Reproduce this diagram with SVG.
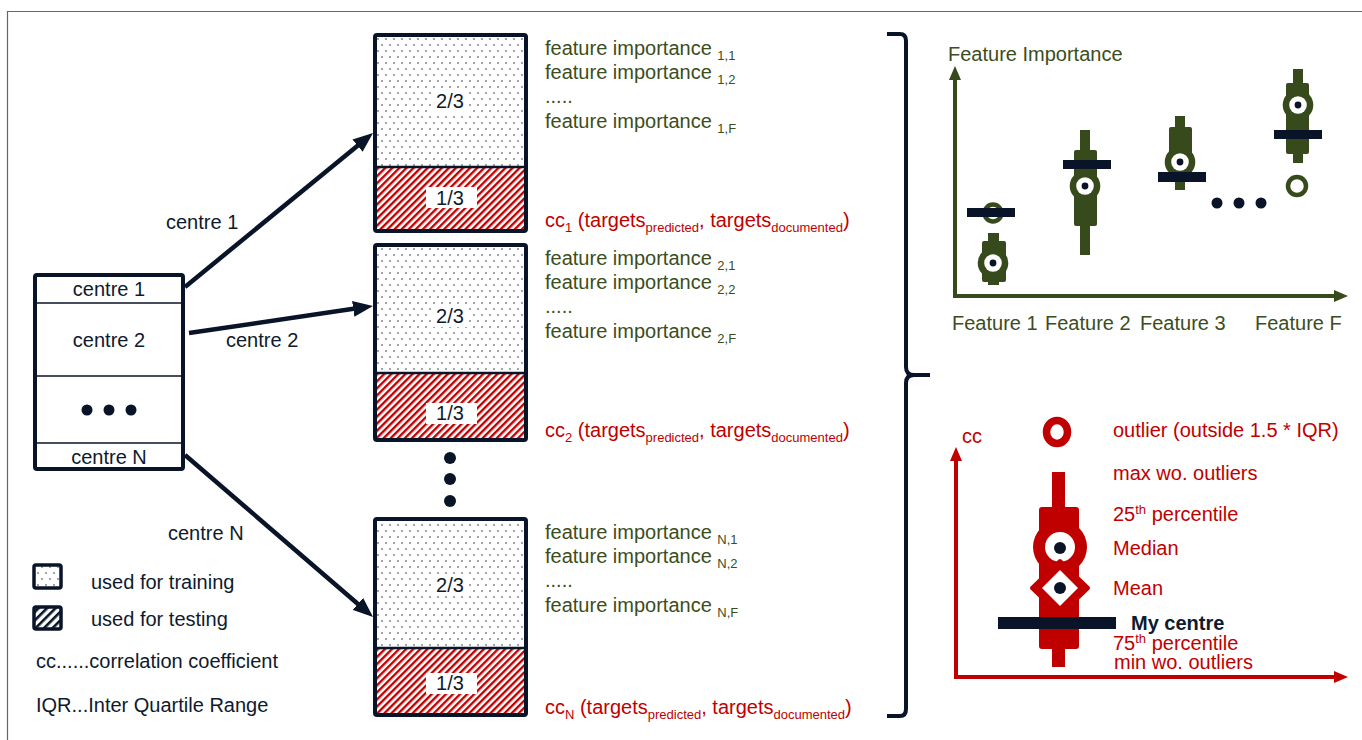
<svg xmlns="http://www.w3.org/2000/svg" width="1362" height="740" viewBox="0 0 1362 740">
<style>
text{font-family:"Liberation Sans",Arial,sans-serif;font-size:20px}
.nv{fill:#0E1A2E}
.gr{fill:#3C4D20}
.rd{fill:#C00000}
.mid{text-anchor:middle}
.sub{font-size:13px}
.blk{stroke:#0A1428;stroke-width:4;fill:none}
.div{stroke:#0A1428;stroke-width:2.5}
.conn{stroke:#0A1428;stroke-width:4.5;fill:none;marker-end:url(#ah)}
.gfill{fill:#374A1C}
.rfill{fill:#C00000}
.navy{fill:#0A1428}
.white{fill:#fff}
</style>
<defs>
<pattern id="dots" width="8" height="12" patternUnits="userSpaceOnUse">
<rect width="8" height="12" fill="#fff"/>
<circle cx="2" cy="3" r="0.8" fill="#2a2f3a"/>
<circle cx="6" cy="9" r="0.8" fill="#2a2f3a"/>
</pattern>
<pattern id="hatch" width="5" height="5" patternUnits="userSpaceOnUse" patternTransform="rotate(45)">
<rect width="5" height="5" fill="#fff"/>
<rect width="2.4" height="5" fill="#C00000"/>
</pattern>
<pattern id="hatchk" width="6" height="6" patternUnits="userSpaceOnUse" patternTransform="rotate(45)">
<rect width="6" height="6" fill="#fff"/>
<rect width="2.6" height="6" fill="#0A1428"/>
</pattern>
<marker id="ah" markerUnits="userSpaceOnUse" markerWidth="20" markerHeight="16" refX="2" refY="8" orient="auto">
<path d="M0,0 L20,8 L0,16 z" fill="#0A1428"/>
</marker>
<marker id="ag" markerUnits="userSpaceOnUse" markerWidth="14" markerHeight="12" refX="1" refY="6" orient="auto-start-reverse">
<path d="M0,0 L14,6 L0,12 z" fill="#374A1C"/>
</marker>
<marker id="ar" markerUnits="userSpaceOnUse" markerWidth="14" markerHeight="12" refX="1" refY="6" orient="auto-start-reverse">
<path d="M0,0 L14,6 L0,12 z" fill="#C00000"/>
</marker>
</defs>
<rect width="1362" height="740" fill="#fff"/>
<path d="M7.5,740 L7.5,11.5 L1362,11.5" fill="none" stroke="#666" stroke-width="1.2"/>

<g id="centres">
<rect x="35" y="275" width="148" height="194" fill="#fff"/>
<line x1="35" y1="303" x2="183" y2="303" stroke="#0A1428" stroke-width="1.5"/>
<line x1="35" y1="376" x2="183" y2="376" stroke="#0A1428" stroke-width="1.5"/>
<line x1="35" y1="443" x2="183" y2="443" stroke="#0A1428" stroke-width="1.5"/>
<rect x="35" y="275" width="148" height="194" rx="2" class="blk"/>
<text x="109" y="296" class="nv mid">centre 1</text>
<text x="109" y="347" class="nv mid">centre 2</text>
<circle cx="87" cy="410" r="5.5" class="navy"/>
<circle cx="109" cy="410" r="5.5" class="navy"/>
<circle cx="131" cy="410" r="5.5" class="navy"/>
<text x="109" y="464" class="nv mid">centre N</text>
</g>

<g id="connectors">
<line x1="185" y1="287" x2="359.1" y2="144.4" class="conn"/>
<line x1="189" y1="333" x2="355.2" y2="308.6" class="conn"/>
<line x1="185" y1="455" x2="359.4" y2="605.2" class="conn"/>
<text x="166" y="229" class="nv">centre 1</text>
<text x="226" y="347" class="nv">centre 2</text>
<text x="168" y="540" class="nv">centre N</text>
</g>

<g id="block1">
<rect x="375" y="35" width="151" height="132" fill="url(#dots)"/>
<rect x="375" y="167" width="151" height="64" fill="url(#hatch)"/>
<line x1="375" y1="167" x2="526" y2="167" class="div"/>
<rect x="375" y="35" width="151" height="196" rx="2" class="blk"/>
<rect x="431" y="90" width="38" height="22" fill="#fff"/>
<text x="450" y="108" class="nv mid">2/3</text>
<rect x="426" y="187" width="51" height="21" fill="#fff"/>
<text x="450" y="205" class="nv mid">1/3</text>
<text x="545" y="55" class="gr">feature importance <tspan class="sub" dy="5">1,1</tspan></text>
<text x="545" y="79" class="gr">feature importance <tspan class="sub" dy="5">1,2</tspan></text>
<text x="545" y="103" class="gr">.....</text>
<text x="545" y="128" class="gr">feature importance <tspan class="sub" dy="5">1,F</tspan></text>
<text x="545" y="227" class="rd">cc<tspan class="sub" dy="5">1</tspan><tspan dy="-5"> (targets</tspan><tspan class="sub" dy="5">predicted</tspan><tspan dy="-5">, targets</tspan><tspan class="sub" dy="5">documented</tspan><tspan dy="-5">)</tspan></text>
</g>

<g id="block2">
<rect x="375" y="245" width="151" height="128" fill="url(#dots)"/>
<rect x="375" y="373" width="151" height="67" fill="url(#hatch)"/>
<line x1="375" y1="373" x2="526" y2="373" class="div"/>
<rect x="375" y="245" width="151" height="195" rx="2" class="blk"/>
<rect x="431" y="305" width="38" height="22" fill="#fff"/>
<text x="450" y="323" class="nv mid">2/3</text>
<rect x="426" y="403" width="51" height="21" fill="#fff"/>
<text x="450" y="420" class="nv mid">1/3</text>
<text x="545" y="265" class="gr">feature importance <tspan class="sub" dy="5">2,1</tspan></text>
<text x="545" y="289" class="gr">feature importance <tspan class="sub" dy="5">2,2</tspan></text>
<text x="545" y="313" class="gr">.....</text>
<text x="545" y="338" class="gr">feature importance <tspan class="sub" dy="5">2,F</tspan></text>
<text x="545" y="437" class="rd">cc<tspan class="sub" dy="5">2</tspan><tspan dy="-5"> (targets</tspan><tspan class="sub" dy="5">predicted</tspan><tspan dy="-5">, targets</tspan><tspan class="sub" dy="5">documented</tspan><tspan dy="-5">)</tspan></text>
</g>

<g id="vdots">
<circle cx="450" cy="458" r="6" class="navy"/>
<circle cx="450" cy="479" r="6" class="navy"/>
<circle cx="450" cy="501" r="6" class="navy"/>
</g>

<g id="blockN">
<rect x="375" y="519" width="151" height="129" fill="url(#dots)"/>
<rect x="375" y="648" width="151" height="67" fill="url(#hatch)"/>
<line x1="375" y1="648" x2="526" y2="648" class="div"/>
<rect x="375" y="519" width="151" height="196" rx="2" class="blk"/>
<rect x="431" y="574" width="38" height="22" fill="#fff"/>
<text x="450" y="592" class="nv mid">2/3</text>
<rect x="426" y="673" width="51" height="21" fill="#fff"/>
<text x="450" y="690" class="nv mid">1/3</text>
<text x="545" y="539" class="gr">feature importance <tspan class="sub" dy="5">N,1</tspan></text>
<text x="545" y="563" class="gr">feature importance <tspan class="sub" dy="5">N,2</tspan></text>
<text x="545" y="587" class="gr">.....</text>
<text x="545" y="612" class="gr">feature importance <tspan class="sub" dy="5">N,F</tspan></text>
<text x="545" y="714" class="rd">cc<tspan class="sub" dy="5">N</tspan><tspan dy="-5"> (targets</tspan><tspan class="sub" dy="5">predicted</tspan><tspan dy="-5">, targets</tspan><tspan class="sub" dy="5">documented</tspan><tspan dy="-5">)</tspan></text>
</g>

<g id="legend">
<rect x="34" y="565" width="27" height="23" rx="2" fill="url(#dots)" stroke="#0A1428" stroke-width="3.5"/>
<text x="91" y="589" class="nv">used for training</text>
<rect x="34" y="607" width="27" height="22" rx="2" fill="url(#hatchk)" stroke="#0A1428" stroke-width="3.5"/>
<text x="91" y="626" class="nv">used for testing</text>
<text x="36" y="668" class="nv">cc......correlation coefficient</text>
<text x="36" y="712" class="nv">IQR...Inter Quartile Range</text>
</g>

<g id="bracket">
<path d="M887,34 L900,34 Q906,34 906,41 L906,367 Q906,375 914,375 L930,375 M914,375 Q906,375 906,383 L906,709 Q906,716 900,716 L887,716" fill="none" stroke="#0A1428" stroke-width="4"/>
</g>

<g id="chart-features">
<text x="948" y="61" class="gr">Feature Importance</text>
<polyline points="955,79 955,296 1335,296" fill="none" stroke="#374A1C" stroke-width="4" marker-start="url(#ag)" marker-end="url(#ag)"/>
<text x="952" y="330" class="gr">Feature 1</text>
<text x="1045" y="330" class="gr">Feature 2</text>
<text x="1140" y="330" class="gr">Feature 3</text>
<text x="1255" y="330" class="gr">Feature F</text>
<rect x="988" y="233" width="11" height="52" class="gfill"/>
<rect x="982" y="241" width="24" height="41" rx="2" class="gfill"/>
<circle cx="993" cy="263" r="15.3" class="gfill"/>
<circle cx="993" cy="263" r="8.8" class="white"/>
<circle cx="993" cy="263" r="3.4" class="navy"/>
<circle cx="993" cy="213" r="8.5" fill="#fff" stroke="#374A1C" stroke-width="4.5"/>
<rect x="967" y="208" width="48" height="9" class="navy"/>
<rect x="1080" y="130" width="10" height="125" class="gfill"/>
<rect x="1074" y="150" width="23" height="76" rx="2" class="gfill"/>
<circle cx="1085" cy="186" r="15.3" class="gfill"/>
<circle cx="1085" cy="186" r="8.8" class="white"/>
<circle cx="1085" cy="186" r="3.4" class="navy"/>
<rect x="1063" y="160" width="48" height="9" class="navy"/>
<rect x="1175" y="116" width="10" height="74" class="gfill"/>
<rect x="1169" y="127" width="23" height="52" rx="2" class="gfill"/>
<circle cx="1180" cy="162" r="15.3" class="gfill"/>
<circle cx="1180" cy="162" r="8.8" class="white"/>
<circle cx="1180" cy="162" r="3.4" class="navy"/>
<rect x="1158" y="172" width="48" height="10" class="navy"/>
<circle cx="1217" cy="203" r="5.5" class="navy"/>
<circle cx="1239" cy="203" r="5.5" class="navy"/>
<circle cx="1261" cy="203" r="5.5" class="navy"/>
<rect x="1293" y="69" width="10" height="94" class="gfill"/>
<rect x="1286" y="83" width="23" height="71" rx="2" class="gfill"/>
<circle cx="1298" cy="105" r="15.3" class="gfill"/>
<circle cx="1298" cy="105" r="8.8" class="white"/>
<circle cx="1298" cy="105" r="3.4" class="navy"/>
<rect x="1274" y="130" width="48" height="9" class="navy"/>
<circle cx="1297" cy="186" r="9" fill="#fff" stroke="#374A1C" stroke-width="4.5"/>
</g>

<g id="chart-legend">
<polyline points="956,460 956,677 1335,677" fill="none" stroke="#C00000" stroke-width="4" marker-start="url(#ar)" marker-end="url(#ar)"/>
<text x="962" y="443" class="rd" font-size="18">cc</text>
<ellipse cx="1057" cy="432" rx="10.5" ry="11.5" fill="#fff" stroke="#C00000" stroke-width="7.5"/>
<rect x="1052" y="472" width="13" height="195" class="rfill"/>
<rect x="1039" y="507" width="40" height="142" rx="3" class="rfill"/>
<circle cx="1060" cy="547" r="27" class="rfill"/>
<circle cx="1060" cy="547" r="15" class="white"/>
<polygon points="1060,561 1088,588 1060,615 1032,588" class="rfill" stroke="#C00000" stroke-width="4" stroke-linejoin="round"/>
<polygon points="1060,570 1078,588 1060,606 1042,588" class="white"/>
<circle cx="1060" cy="548" r="6" class="navy"/>
<circle cx="1060" cy="588" r="6" class="navy"/>
<rect x="998" y="617" width="118" height="12" class="navy"/>
<text x="1113" y="437" class="rd">outlier (outside 1.5 * IQR)</text>
<text x="1113" y="480" class="rd">max wo. outliers</text>
<text x="1113" y="521" class="rd">25<tspan class="sub" dy="-7">th</tspan><tspan dy="7"> percentile</tspan></text>
<text x="1113" y="555" class="rd">Median</text>
<text x="1113" y="595" class="rd">Mean</text>
<text x="1131" y="630" class="nv" font-weight="bold">My centre</text>
<text x="1113" y="650" class="rd">75<tspan class="sub" dy="-7">th</tspan><tspan dy="7"> percentile</tspan></text>
<text x="1114" y="669" class="rd">min wo. outliers</text>
</g>
</svg>
